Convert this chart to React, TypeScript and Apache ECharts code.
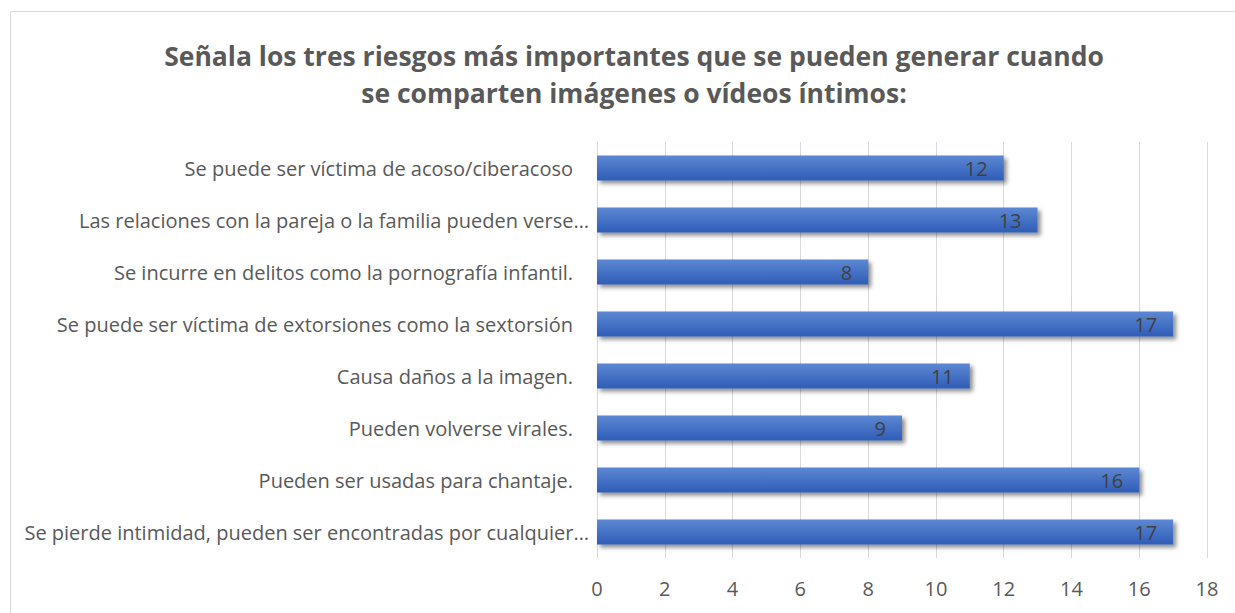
import React, { useEffect, useRef } from "react";
import * as echarts from "echarts";

const titleLines = [
  "Señala los tres riesgos más importantes que se pueden generar cuando",
  "se comparten imágenes o vídeos íntimos:",
];

const categories = [
  "Se puede ser víctima de acoso/ciberacoso",
  "Las relaciones con la pareja o la familia pueden verse…",
  "Se incurre en delitos como la pornografía infantil.",
  "Se puede ser víctima de extorsiones como la sextorsión",
  "Causa daños a la imagen.",
  "Pueden volverse virales.",
  "Pueden ser usadas para chantaje.",
  "Se pierde intimidad, pueden ser encontradas por cualquier…",
];

const values = [12, 13, 8, 17, 11, 9, 16, 17];

const xMin = 0;
const xMax = 18;
const xInterval = 2;

const FONT = "'Open Sans', Lato, sans-serif";

export default function App() {
  const ref = useRef<HTMLDivElement>(null);

  useEffect(() => {
    if (!ref.current) return;
    const chart = echarts.init(ref.current, null, { renderer: "svg" });
    const labelStyle = {
      fontFamily: FONT,
      fontSize: 20,
      color: "#595959",
    };
    chart.setOption({
      animation: false,
      backgroundColor: "#ffffff",
      title: {
        text: titleLines.join("\n"),
        left: 629,
        textAlign: "center",
        top: 32,
        textStyle: {
          fontFamily: FONT,
          fontWeight: "bold",
          fontSize: 26.5,
          lineHeight: 37,
          color: "#595959",
        },
      },
      graphic: [
        {
          type: "rect",
          shape: { x: 10.5, y: 11.5, width: 1300, height: 700 },
          style: { fill: "none", stroke: "#d9d9d9", lineWidth: 1 },
          silent: true,
        },
      ],
      grid: {
        left: 597,
        right: 28,
        top: 142,
        height: 416,
        containLabel: false,
      },
      xAxis: {
        type: "value",
        min: xMin,
        max: xMax,
        interval: xInterval,
        axisLine: { show: false },
        axisTick: { show: false },
        splitLine: { show: true, lineStyle: { color: "#d9d9d9", width: 1 } },
        axisLabel: {
          fontFamily: FONT,
          fontSize: 20,
          color: "#595959",
          margin: 20,
        },
      },
      yAxis: {
        type: "category",
        data: categories,
        inverse: true,
        axisLine: { show: false },
        axisTick: { show: false },
        axisLabel: {
          ...labelStyle,
          margin: 8,
          formatter: (v: string) =>
            v.endsWith("…") ? `{t|${v}}` : `{f|${v}}`,
          rich: {
            t: { ...labelStyle },
            f: { ...labelStyle, padding: [0, 16, 0, 0] },
          },
        },
      },
      series: [
        {
          type: "bar",
          data: values,
          barWidth: 25,
          itemStyle: {
            color: new echarts.graphic.LinearGradient(0, 0, 0, 1, [
              { offset: 0, color: "#5d88d2" },
              { offset: 0.5, color: "#4672c6" },
              { offset: 1, color: "#2f5db6" },
            ]),
            shadowColor: "rgba(0,0,0,0.45)",
            shadowBlur: 4,
            shadowOffsetX: 3,
            shadowOffsetY: 3,
          },
          label: {
            show: true,
            position: "insideRight",
            distance: 16,
            fontFamily: FONT,
            fontSize: 20,
            color: "#404040",
          },
        },
      ],
    });
    return () => chart.dispose();
  }, []);

  return (
    <div
      ref={ref}
      style={{ position: "fixed", left: 0, top: 0, width: 1235, height: 613 }}
    />
  );
}
